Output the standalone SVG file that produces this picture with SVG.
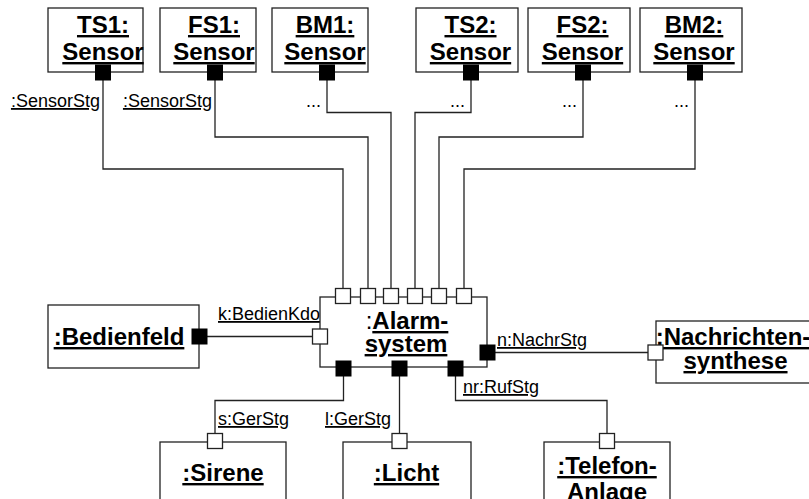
<svg xmlns="http://www.w3.org/2000/svg" width="809" height="499" viewBox="0 0 809 499">
<style>
.box{fill:#fff;stroke:#222;stroke-width:1.3}
.pb{fill:#000;stroke:#000;stroke-width:1}
.pw{fill:#fff;stroke:#222;stroke-width:1.3}
.ln{fill:none;stroke:#222;stroke-width:1.3}
.t{font-family:"Liberation Sans",Arial,sans-serif;font-size:24px;font-weight:bold;text-anchor:middle;text-decoration:underline;fill:#000}
.lb{font-family:"Liberation Sans",Arial,sans-serif;font-size:18px;text-decoration:underline;fill:#000}
.dots{font-family:"Liberation Sans",Arial,sans-serif;font-size:18px;text-anchor:end;fill:#000}
</style>
<rect width="809" height="499" fill="#fff"/>
<g id="connectors">
<polyline class="ln" points="103,80 103,169 343,169 343,289"/>
<polyline class="ln" points="215,80 215,137 368,137 368,289"/>
<polyline class="ln" points="327,80 327,112.5 391,112.5 391,289"/>
<polyline class="ln" points="471,80 471,112.5 415,112.5 415,289"/>
<polyline class="ln" points="583,80 583,137 439,137 439,289"/>
<polyline class="ln" points="695,80 695,169 464,169 464,289"/>
<line class="ln" x1="207" y1="336.5" x2="312.5" y2="336.5"/>
<line class="ln" x1="495" y1="352.5" x2="648" y2="352.5"/>
<polyline class="ln" points="343.5,376 343.5,400.5 215,400.5 215,433.5"/>
<line class="ln" x1="399.5" y1="376" x2="399.5" y2="433.5"/>
<polyline class="ln" points="455.5,376 455.5,400.5 607,400.5 607,433.5"/>
<text class="lb" x="100" y="107" text-anchor="end">:SensorStg</text>
<text class="lb" x="212" y="107" text-anchor="end">:SensorStg</text>
<text class="dots" x="321" y="107">...</text>
<text class="dots" x="465" y="107">...</text>
<text class="dots" x="577" y="107">...</text>
<text class="dots" x="689" y="107">...</text>
<text class="lb" x="218" y="320">k:BedienKdo</text>
<text class="lb" x="497" y="346">n:NachrStg</text>
<text class="lb" x="463" y="393">nr:RufStg</text>
<text class="lb" x="218" y="425">s:GerStg</text>
<text class="lb" x="325" y="425">l:GerStg</text>
</g>
<g id="ts1"><rect class="box" x="48" y="8" width="95" height="64"/><text class="t" x="103" y="33">TS1:</text><text class="t" x="103" y="60">Sensor</text><rect class="pb" x="95.5" y="65" width="15" height="15"/></g>
<g id="fs1"><rect class="box" x="160" y="8" width="96" height="64"/><text class="t" x="214" y="33">FS1:</text><text class="t" x="214" y="60">Sensor</text><rect class="pb" x="207.5" y="65" width="15" height="15"/></g>
<g id="bm1"><rect class="box" x="272" y="8" width="96" height="64"/><text class="t" x="325" y="33">BM1:</text><text class="t" x="325" y="60">Sensor</text><rect class="pb" x="319.5" y="65" width="15" height="15"/></g>
<g id="ts2"><rect class="box" x="416" y="8" width="102" height="64"/><text class="t" x="470.5" y="33">TS2:</text><text class="t" x="470.5" y="60">Sensor</text><rect class="pb" x="463.5" y="65" width="15" height="15"/></g>
<g id="fs2"><rect class="box" x="528" y="8" width="102" height="64"/><text class="t" x="582.5" y="33">FS2:</text><text class="t" x="582.5" y="60">Sensor</text><rect class="pb" x="575.5" y="65" width="15" height="15"/></g>
<g id="bm2"><rect class="box" x="640" y="8" width="102" height="64"/><text class="t" x="694" y="33">BM2:</text><text class="t" x="694" y="60">Sensor</text><rect class="pb" x="687.5" y="65" width="15" height="15"/></g>
<g id="alarmsystem">
<rect class="box" x="320" y="297" width="167" height="70"/>
<text class="t" x="407" y="329" style="text-decoration:none"><tspan style="font-weight:normal">:</tspan><tspan style="text-decoration:underline">Alarm-</tspan></text>
<text class="t" x="406" y="352">system</text>
<rect class="pw" x="335.5" y="288.5" width="15" height="15"/>
<rect class="pw" x="360.5" y="288.5" width="15" height="15"/>
<rect class="pw" x="383.5" y="288.5" width="15" height="15"/>
<rect class="pw" x="407.5" y="288.5" width="15" height="15"/>
<rect class="pw" x="431.5" y="288.5" width="15" height="15"/>
<rect class="pw" x="456.5" y="288.5" width="15" height="15"/>
<rect class="pw" x="312.5" y="329" width="15" height="15"/>
<rect class="pb" x="336" y="361" width="15" height="15"/>
<rect class="pb" x="392" y="361" width="15" height="15"/>
<rect class="pb" x="448" y="361" width="15" height="15"/>
<rect class="pb" x="480" y="345" width="15" height="15"/>
</g>
<g id="bedienfeld"><rect class="box" x="48" y="305" width="151" height="63"/><text class="t" x="119" y="345">:Bedienfeld</text><rect class="pb" x="192" y="329" width="15" height="15"/></g>
<g id="nachrichtensynthese"><rect class="box" x="656" y="321" width="160" height="62"/><text class="t" x="733" y="345">:Nachrichten-</text><text class="t" x="735.5" y="369">synthese</text><rect class="pw" x="648" y="345" width="15" height="15"/></g>
<g id="sirene"><rect class="box" x="160" y="442" width="126" height="70"/><text class="t" x="223" y="481">:Sirene</text><rect class="pw" x="207.5" y="433.5" width="15" height="15"/></g>
<g id="licht"><rect class="box" x="343" y="442" width="128" height="70"/><text class="t" x="406.5" y="481">:Licht</text><rect class="pw" x="392" y="433.5" width="15" height="15"/></g>
<g id="telefonanlage"><rect class="box" x="544" y="442" width="126" height="70"/><text class="t" x="607" y="474">:Telefon-</text><text class="t" x="607" y="500">Anlage</text><rect class="pw" x="599.5" y="433.5" width="15" height="15"/></g>
</svg>
